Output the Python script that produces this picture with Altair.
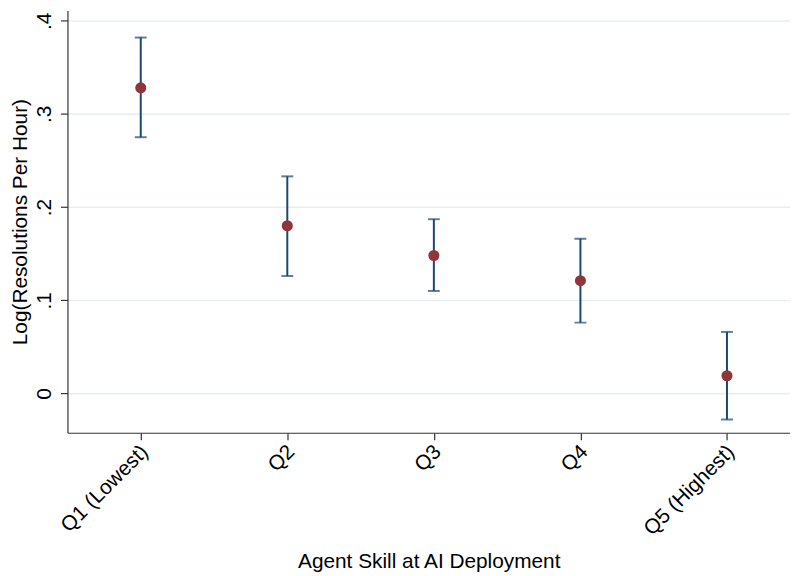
import altair as alt
import pandas as pd

labels = ["Q1 (Lowest)", "Q2", "Q3", "Q4", "Q5 (Highest)"]
idx = [1, 2, 3, 4, 5]
est = [0.328, 0.180, 0.148, 0.121, 0.019]
lo = [0.275, 0.126, 0.110, 0.076, -0.028]
hi = [0.382, 0.233, 0.187, 0.166, 0.066]

df = pd.DataFrame({"idx": idx, "label": labels, "est": est, "lo": lo, "hi": hi})

FONT = "Liberation Sans"
FS = 21
label_expr = "[' ', 'Q1 (Lowest)', 'Q2', 'Q3', 'Q4', 'Q5 (Highest)'][datum.value]"

x = alt.X("idx:Q",
          scale=alt.Scale(domain=[0.5, 5.43], nice=False, zero=False),
          axis=alt.Axis(values=[1, 2, 3, 4, 5], labelExpr=label_expr,
                        title="Agent Skill at AI Deployment", grid=False,
                        labelAngle=-45, labelAlign="right", labelBaseline="top",
                        labelFontSize=FS, titleFontSize=FS,
                        titlePadding=12, tickSize=7, labelPadding=1, labelOffset=-4))
y_axis = alt.Axis(values=[0, 0.1, 0.2, 0.3, 0.4],
                  labelExpr="datum.value == 0 ? '0' : replace(format(datum.value, '.1f'), '0.', '.')",
                  title="Log(Resolutions Per Hour)", grid=True,
                  gridColor="#e8eff2", gridWidth=1.6,
                  labelAngle=270, labelAlign="center", labelBaseline="bottom",
                  labelFontSize=FS, titleFontSize=FS, tickSize=7, labelPadding=6,
                  titlePadding=3)
yscale = alt.Scale(domain=[-0.0422, 0.411], nice=False, zero=False)

base = alt.Chart(df)
rules = base.mark_rule(color="#1a476f", strokeWidth=2).encode(
    x=x, y=alt.Y("lo:Q", scale=yscale, axis=y_axis), y2="hi:Q")
caps_hi = base.mark_tick(color="#1a476f", thickness=2, size=12, orient="horizontal").encode(
    x="idx:Q", y="hi:Q")
caps_lo = base.mark_tick(color="#1a476f", thickness=2, size=12, orient="horizontal").encode(
    x="idx:Q", y="lo:Q")
pts = base.mark_circle(color="#90353b", size=125, opacity=1).encode(
    x="idx:Q", y="est:Q")

chart = alt.layer(rules, caps_hi, caps_lo, pts).properties(
    width=729, height=426,
    autosize=alt.AutoSizeParams(type="none"),
    padding={"left": 60, "top": 0, "right": 0, "bottom": 142},
    background="white",
).configure_axis(
    labelFont=FONT, titleFont=FONT, labelColor="black", titleColor="black",
    domainColor="#333333", tickColor="#333333", domainWidth=1.2, tickWidth=1.2,
    titleFontWeight="normal",
).configure_view(stroke=None)

chart.save("out.html", embed_options={"renderer": "svg", "actions": False})
